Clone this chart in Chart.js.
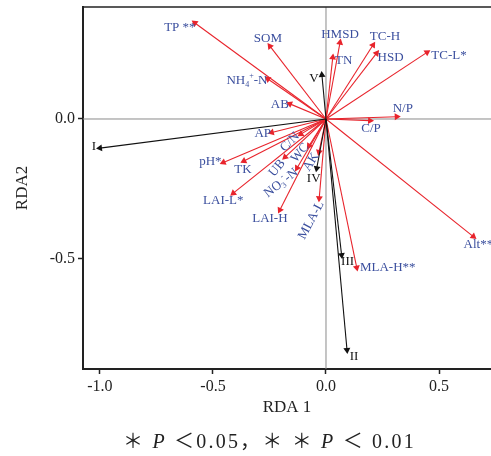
<!DOCTYPE html>
<html>
<head>
<meta charset="utf-8">
<script src="https://cdn.jsdelivr.net/npm/chart.js@4/dist/chart.umd.min.js"></script>
<style>
  body { margin: 0; background: #fff; }
  #wrap { position: relative; width: 491px; height: 456px; overflow: hidden; }
  #note {
    position: absolute; left: 0; width: 491px; top: 425px; text-align: center;
    font-family: "Liberation Serif", "Noto Sans CJK SC", serif; font-size: 20px;
    letter-spacing: 2.2px; color: #222; padding-left: 48px; box-sizing: border-box;
  }
  #note i { font-family: "Liberation Serif", serif; }
</style>
</head>
<body>
<div id="wrap">
  <canvas id="rda" width="491" height="456"></canvas>
  <div id="note">＊ <i>P</i> ＜0.05，＊ ＊ <i>P</i> ＜ 0.01</div>
</div>
<script>
// environmental factors (red arrows)
const envNames = ['TP **','SOM','NH4+-N','AB','HMSD','TN','TC-H','HSD','TC-L*','N/P','C/P','Alt**',
  'MLA-H**','MLA-L','LAI-H','LAI-L*','pH*','TK','AP','C/N','UB','NO3--N','WC','AK'];
const envX = [-0.58,-0.248,-0.257,-0.16,0.062,0.03,0.208,0.224,0.447,0.313,0.195,0.652,
  0.136,-0.03,-0.204,-0.41,-0.454,-0.363,-0.24,-0.111,-0.181,-0.128,-0.075,-0.031];
const envY = [0.343,0.26,0.143,0.054,0.273,0.22,0.264,0.235,0.238,0.008,-0.006,-0.42,
  -0.531,-0.283,-0.325,-0.265,-0.155,-0.15,-0.048,-0.054,-0.136,-0.175,-0.096,-0.118];

// groups (black arrows)
const grpNames = ['I','II','III','IV','V'];
const grpX = [-1.0, 0.093, 0.069, -0.041, -0.018];
const grpY = [-0.104, -0.825, -0.486, -0.176, 0.157];

const xTicks = [-1.0, -0.5, 0.0, 0.5];
const yTicks = [-0.5, 0.0];

// label placement relative to arrow tip (px), rotation in degrees
const labelPos = {
  'TP **': [-15, 5], 'SOM': [-2, -8], 'NH4+-N': [-21, 2], 'AB': [-10, 1],
  'HMSD': [0, -8], 'TN': [11, 3], 'TC-H': [12, -8], 'HSD': [14, 4], 'TC-L*': [22, 3],
  'N/P': [6, -8], 'C/P': [1, 8], 'Alt**': [5, 8], 'MLA-H**': [31, 0],
  'MLA-L': [-8, 22, -62], 'LAI-H': [-10, 9], 'LAI-L*': [-10, 7], 'pH*': [-13, -1],
  'TK': [-1, 9], 'AP': [-9, 1], 'C/N': [-11, 8, -45], 'UB': [-8, 11, -50],
  'NO3--N': [-16, 15, -38], 'WC': [-9, 7, -50], 'AK': [-8, 10, -58],
  'I': [-6, -2], 'II': [7, 7], 'III': [6, 7], 'IV': [-3, 10], 'V': [-8, 4]
};

const RED = '#e8242c';
const BLUE = '#3b4f9e';

function arrowRotation(ctx) {
  const chart = ctx.chart;
  const d = ctx.dataset.data[1];
  const sx = chart.scales.x, sy = chart.scales.y;
  if (!sx || !sy) return 0;
  const dx = sx.getPixelForValue(d.x) - sx.getPixelForValue(0);
  const dy = sy.getPixelForValue(d.y) - sy.getPixelForValue(0);
  return Math.atan2(dx, -dy) * 180 / Math.PI;
}

function vectorSet(name, x, y, color) {
  return {
    label: name,
    data: [{x: 0, y: 0}, {x: x, y: y}],
    showLine: true,
    borderColor: color,
    backgroundColor: color,
    borderWidth: 1.1,
    pointStyle: 'triangle',
    pointRadius: [0, 4],
    pointBorderWidth: 0,
    pointRotation: arrowRotation
  };
}

const datasets = [];
grpNames.forEach((n, i) => datasets.push(vectorSet(n, grpX[i], grpY[i], '#111')));
envNames.forEach((n, i) => datasets.push(vectorSet(n, envX[i], envY[i], RED)));

// text with sub/superscripts
function labelRuns(name) {
  if (name === 'NH4+-N') return [['NH'], ['4', 'sub'], ['+', 'sup'], ['-N']];
  if (name === 'NO3--N') return [['NO'], ['3', 'sub'], ['-', 'sup'], ['-N']];
  return [[name]];
}

function drawRuns(c, runs, size) {
  const small = Math.round(size * 0.65);
  let w = 0;
  runs.forEach(r => {
    c.font = (r[1] ? small : size) + 'px "Liberation Serif", serif';
    w += c.measureText(r[0]).width;
  });
  let x = -w / 2;
  runs.forEach(r => {
    c.font = (r[1] ? small : size) + 'px "Liberation Serif", serif';
    let y = 0;
    if (r[1] === 'sub') y = size * 0.3;
    if (r[1] === 'sup') y = -size * 0.35;
    c.fillText(r[0], x, y);
    x += c.measureText(r[0]).width;
  });
}

const framePlugin = {
  id: 'frame',
  beforeDatasetsDraw(chart) {
    const c = chart.ctx, a = chart.chartArea;
    const x0 = chart.scales.x.getPixelForValue(0);
    const y0 = chart.scales.y.getPixelForValue(0);
    c.save();
    c.strokeStyle = '#8a8a8a';
    c.lineWidth = 1;
    c.beginPath();
    c.moveTo(x0, a.top); c.lineTo(x0, a.bottom);
    c.moveTo(a.left, y0); c.lineTo(a.right, y0);
    c.stroke();
    c.strokeStyle = '#222';
    c.lineWidth = 1.5;
    c.beginPath();
    c.moveTo(a.left, a.top); c.lineTo(a.right, a.top);
    c.stroke();
    c.restore();
  },
  afterDatasetsDraw(chart) {
    const c = chart.ctx;
    chart.data.datasets.forEach(ds => {
      const p = ds.data[1];
      const pos = labelPos[ds.label] || [0, 0];
      const px = chart.scales.x.getPixelForValue(p.x) + pos[0];
      const py = chart.scales.y.getPixelForValue(p.y) + pos[1];
      c.save();
      c.translate(px, py);
      if (pos[2]) c.rotate(pos[2] * Math.PI / 180);
      c.textBaseline = 'middle';
      c.textAlign = 'left';
      c.fillStyle = grpNames.includes(ds.label) ? '#111' : BLUE;
      drawRuns(c, labelRuns(ds.label), 13);
      c.restore();
    });
  }
};

new Chart(document.getElementById('rda'), {
  type: 'scatter',
  data: { datasets: datasets },
  options: {
    responsive: false,
    animation: false,
    layout: { autoPadding: false, padding: { top: 7, right: 0, left: 0, bottom: 0 } },
    plugins: { legend: { display: false }, tooltip: { enabled: false } },
    scales: {
      x: {
        type: 'linear', min: -1.075, max: 0.73,
        afterBuildTicks: s => { s.ticks = xTicks.map(v => ({value: v})); },
        afterFit: s => { s.height = 87; s.paddingLeft = 0; s.paddingRight = 0; },
        ticks: {
          color: '#222', padding: 3, maxRotation: 0,
          font: { family: '"Liberation Serif", serif', size: 16 },
          callback: v => v.toFixed(1)
        },
        grid: { drawOnChartArea: false, drawTicks: true, tickLength: 5, color: '#222', tickWidth: 1.5 },
        border: { display: true, color: '#222', width: 2 },
        title: {
          display: true, text: 'RDA 1', color: '#222',
          font: { family: '"Liberation Serif", serif', size: 17 },
          padding: { top: 0, bottom: 38 }
        }
      },
      y: {
        type: 'linear', min: -0.893, max: 0.4,
        afterBuildTicks: s => { s.ticks = yTicks.map(v => ({value: v})); },
        afterFit: s => { s.width = 83; s.paddingTop = 0; s.paddingBottom = 0; },
        ticks: {
          color: '#222', padding: 3,
          font: { family: '"Liberation Serif", serif', size: 16 },
          callback: v => v.toFixed(1)
        },
        grid: { drawOnChartArea: false, drawTicks: true, tickLength: 5, color: '#222', tickWidth: 1.5 },
        border: { display: true, color: '#222', width: 2 },
        title: {
          display: true, text: 'RDA2', color: '#222',
          font: { family: '"Liberation Serif", serif', size: 17 },
          padding: { top: 12, bottom: 0 }
        }
      }
    }
  },
  plugins: [framePlugin]
});
</script>
</body>
</html>
